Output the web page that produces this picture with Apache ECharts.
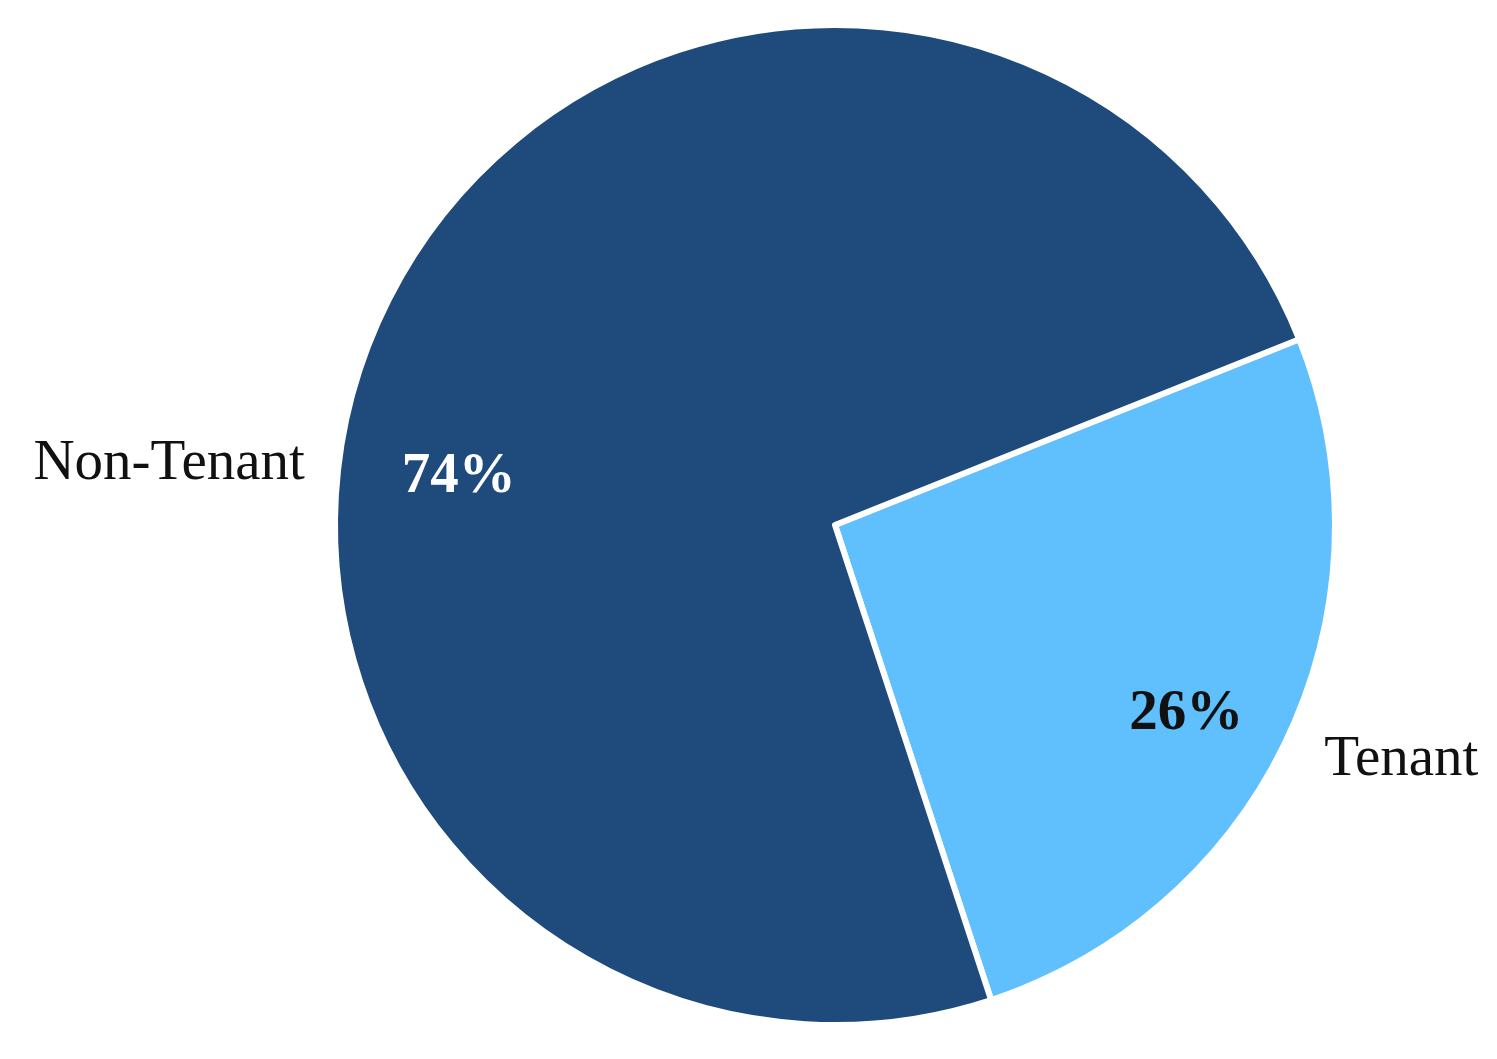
<!DOCTYPE html>
<html>
<head>
<meta charset="utf-8">
<script src="https://cdn.jsdelivr.net/npm/echarts@6/dist/echarts.min.js"></script>
<style>
html,body{margin:0;padding:0;background:#fff;}
#chart{width:1497px;height:1059px;}
</style>
</head>
<body>
<div id="chart"></div>
<script>
var categories = ['Tenant', 'Non-Tenant'];
var shares = [26, 74];
var colors = ['#60BFFD', '#1F4A7C'];
var pctColors = ['#111111', '#ffffff'];

var pctOffsets = [[122, 82], [-147, 59]];
var nameOffsets = [[31, 24], [-72, 150]];

var chart = echarts.init(document.getElementById('chart'));
var fontFam = '"Liberation Serif", "Times New Roman", serif';

var sliceData = categories.map(function (c, i) {
  return {
    name: c, value: shares[i],
    itemStyle: { color: colors[i] },
    label: { color: pctColors[i] }
  };
});
var nameData = categories.map(function (c, i) {
  return { name: c, value: shares[i] };
});

chart.setOption({
  backgroundColor: '#ffffff',
  animation: false,
  series: [
    {
      type: 'pie',
      center: [835, 525],
      radius: [0, 500],
      startAngle: 21.8,
      clockwise: true,
      avoidLabelOverlap: false,
      silent: true,
      itemStyle: { borderColor: '#ffffff', borderWidth: 6 },
      label: {
        show: true,
        position: 'inside',
        formatter: '{c}%',
        fontFamily: fontFam,
        fontWeight: 'bold',
        fontSize: 57
      },
      labelLine: { show: false },
      labelLayout: function (p) {
        var o = pctOffsets[p.dataIndex];
        return { dx: o[0], dy: o[1] };
      },
      data: sliceData
    },
    {
      type: 'pie',
      center: [835, 525],
      radius: [0, 500],
      startAngle: 21.8,
      clockwise: true,
      avoidLabelOverlap: false,
      silent: true,
      itemStyle: { color: 'rgba(0,0,0,0)', borderWidth: 0 },
      label: {
        show: true,
        position: 'outside',
        formatter: '{b}',
        fontFamily: fontFam,
        fontSize: 57,
        color: '#111111'
      },
      labelLine: { show: false, length: 0, length2: 0 },
      labelLayout: function (p) {
        var o = nameOffsets[p.dataIndex];
        return { dx: o[0], dy: o[1] };
      },
      data: nameData
    }
  ]
});
</script>
</body>
</html>
